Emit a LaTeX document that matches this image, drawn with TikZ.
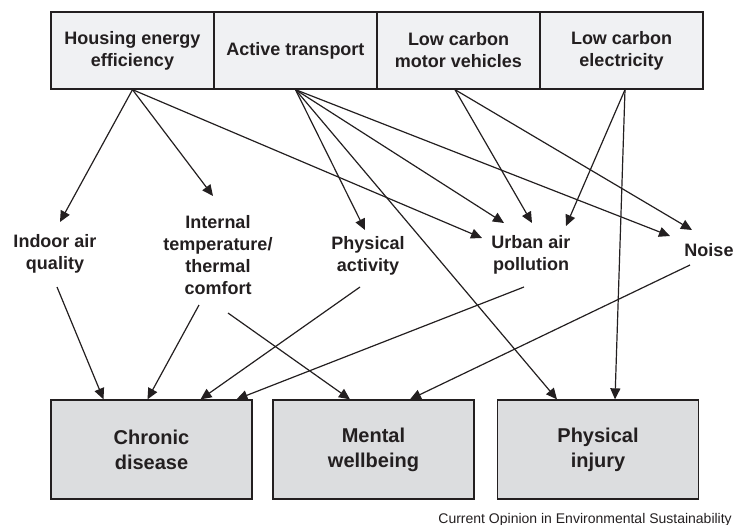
\documentclass[tikz,border=0pt]{standalone}
\usepackage{fontspec}
\setmainfont{Liberation Sans}
\usetikzlibrary{arrows.meta}
\definecolor{toplight}{RGB}{240,241,243}
\definecolor{botgray}{RGB}{220,221,223}
\definecolor{inkgray}{RGB}{35,31,32}

\begin{document}
\begin{tikzpicture}[x=1pt,y=-1pt,
    srcbox/.style={draw=inkgray,line width=1.3pt,fill=toplight,minimum width=163pt,minimum height=77pt,
      align=center,inner sep=0pt,text=inkgray,font=\bfseries\fontsize{18}{22}\selectfont},
    outbox/.style={draw=inkgray,line width=1.3pt,fill=botgray,minimum width=201pt,minimum height=99pt,
      align=center,inner sep=0pt,text=inkgray,font=\bfseries\fontsize{20}{25}\selectfont},
    midlabel/.style={align=center,inner sep=0pt,text=inkgray,font=\bfseries\fontsize{18}{22}\selectfont},
    link/.style={draw=inkgray,line width=1.2pt,-{Triangle[length=11pt,width=10pt]}}]
  \useasboundingbox (0,0) rectangle (734,525);
  % interventions
  \node[srcbox] (house) at (132.5,50.5) {Housing energy\\efficiency};
  \node[srcbox] (active) at (295.5,50.5) {Active transport};
  \node[srcbox] (motor) at (458.5,50.5) {Low carbon\\motor vehicles};
  \node[srcbox] (elec) at (621.5,50.5) {Low carbon\\electricity};
  % pathways
  \node[midlabel] (indoor) at (55,254) {Indoor air\\quality};
  \node[midlabel] (thermal) at (218,255) {Internal\\temperature/\\thermal\\comfort};
  \node[midlabel] (activity) at (368,256) {Physical\\activity};
  \node[midlabel] (urban) at (531,255) {Urban air\\pollution};
  \node[midlabel] (noise) at (709,250) {Noise};
  % outcomes
  \node[outbox] (chronic) at (151.5,449.5) {Chronic\\disease};
  \node[outbox] (mental) at (373.5,449.5) {Mental\\wellbeing};
  \node[outbox] (injury) at (598,449.5) {Physical\\injury};
  \node[anchor=base east,inner sep=0pt,text=inkgray,font=\fontsize{14}{16}\selectfont] (credit) at (732,523.5)
    {Current Opinion in Environmental Sustainability};
  % interventions -> pathways
  \draw[link] (house.south) -- ([shift={(5,-32)}]indoor.center);
  \draw[link] (house.south) -- ([shift={(-5,-59)}]thermal.center);
  \draw[link] (house.south) -- ([shift={(-49,-17)}]urban.center);
  \draw[link] (active.south) -- ([shift={(-3,-26)}]activity.center);
  \draw[link] (active.south) -- ([shift={(-27,-32)}]urban.center);
  \draw[link] (active.south) -- ([shift={(-39,-14)}]noise.center);
  \draw[link] (active.south) -- ([xshift=-41pt]injury.north);
  \draw[link] ([xshift=-3.5pt]motor.south) -- ([shift={(1,-32)}]urban.center);
  \draw[link] ([xshift=-3.5pt]motor.south) -- ([shift={(-17,-20)}]noise.center);
  \draw[link] ([xshift=3.5pt]elec.south) -- ([shift={(35,-29)}]urban.center);
  \draw[link] ([xshift=3.5pt]elec.south) -- ([xshift=17pt]injury.north);
  % pathways -> outcomes
  \draw[link] ([shift={(2,33)}]indoor.center) -- ([xshift=-48pt]chronic.north);
  \draw[link] ([shift={(-19,50)}]thermal.center) -- ([xshift=-4pt]chronic.north);
  \draw[link] ([shift={(10,58)}]thermal.center) -- ([xshift=-23.5pt]mental.north);
  \draw[link] ([shift={(-8,31)}]activity.center) -- ([xshift=49pt]chronic.north);
  \draw[link] ([shift={(-7,32)}]urban.center) -- ([xshift=85pt]chronic.north);
  \draw[link] ([shift={(-19,15)}]noise.center) -- ([xshift=36.5pt]mental.north);
\end{tikzpicture}
\end{document}
